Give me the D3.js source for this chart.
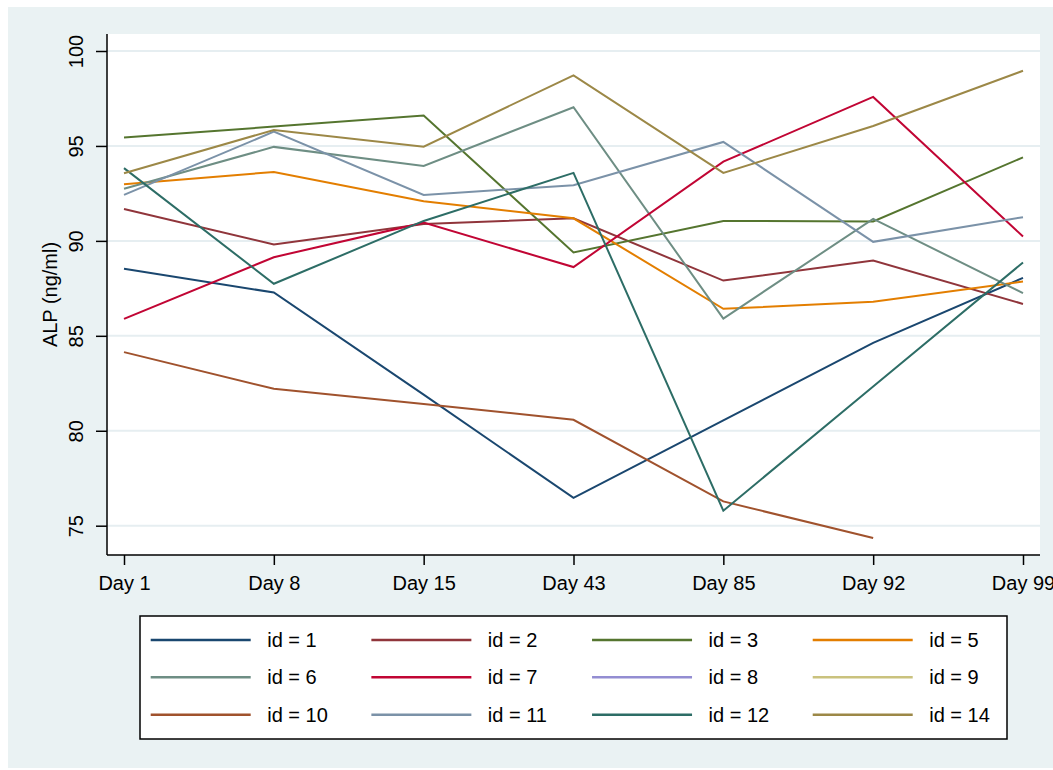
<!DOCTYPE html>
<html>
<head>
<meta charset="utf-8">
<script src="https://cdn.jsdelivr.net/npm/d3@7"></script>
<style>
  html, body { margin: 0; padding: 0; background: #ffffff; }
  svg { display: block; font-family: "Liberation Sans", Arial, Helvetica, sans-serif; }
</style>
</head>
<body>
<svg id="chart" width="1053" height="770"></svg>
<script>
// ---- data ----
const days = ["Day 1", "Day 8", "Day 15", "Day 43", "Day 85", "Day 92", "Day 99"];
const yTicks = [75, 80, 85, 90, 95, 100];
const yTitle = "ALP (ng/ml)";
const seriesLabels = ["id = 1", "id = 2", "id = 3", "id = 5", "id = 6", "id = 7", "id = 8", "id = 9", "id = 10", "id = 11", "id = 12", "id = 14"];
const id1  = [88.53, 87.28, 81.9, 76.47, 80.55, 84.63, 88.05];
const id2  = [91.68, 89.81, 90.89, 91.19, 87.91, 88.96, 86.68];
const id3  = [95.44, 96.02, 96.6, 89.39, 91.05, 91.02, 94.4];
const id5  = [92.98, 93.63, 92.09, 91.19, 86.42, 86.8, 87.86];
const id6  = [92.75, 94.95, 93.95, 97.04, 85.91, 91.16, 87.25];
const id7  = [85.89, 89.14, 90.96, 88.62, 94.17, 97.58, 90.23];
const id8  = [null, null, null, null, null, null, null];
const id9  = [null, null, null, null, null, null, null];
const id10 = [84.14, 82.21, 81.41, 80.58, 76.28, 74.35, null];
const id11 = [92.42, 95.75, 92.42, 92.93, 95.21, 89.95, 91.25];
const id12 = [93.83, 87.74, 91.05, 93.58, 75.79, 82.33, 88.86];
const id14 = [93.56, 95.84, 94.96, 98.72, 93.58, 96.05, 98.96];
const seriesValues = [id1, id2, id3, id5, id6, id7, id8, id9, id10, id11, id12, id14];
const colors = ["#1a476f", "#90353b", "#55752f", "#e37e00", "#6e8e84", "#c10534", "#938dd2", "#cac27e", "#a0522d", "#7b92a8", "#2d6d66", "#9c8847"];

// ---- layout ----
const svg = d3.select("#chart");
const plot = { left: 107, right: 1040, top: 34, bottom: 555 };

svg.append("rect").attr("x", 8).attr("y", 7).attr("width", 1045).attr("height", 761).attr("fill", "#eaf2f3");
svg.append("rect").attr("x", plot.left).attr("y", plot.top)
  .attr("width", plot.right - plot.left).attr("height", plot.bottom - plot.top).attr("fill", "#ffffff");

const x = d3.scalePoint().domain(days).range([124, 1023]);
const y = d3.scaleLinear().domain([75, 100]).range([525.7, 51]);

// gridlines
svg.append("g").selectAll("line").data(yTicks).join("line")
  .attr("x1", plot.left).attr("x2", plot.right)
  .attr("y1", d => y(d)).attr("y2", d => y(d))
  .attr("stroke", "#e6eef1").attr("stroke-width", 2);

// series lines
const lineGen = d3.line()
  .defined(d => d.v != null)
  .x(d => x(d.day)).y(d => y(d.v));

seriesValues.forEach((vals, i) => {
  const pts = days.map((day, j) => ({ day, v: vals[j] })).filter(d => d.v != null);
  if (pts.length < 2) return;
  svg.append("path").datum(pts)
    .attr("d", lineGen)
    .attr("fill", "none")
    .attr("stroke", colors[i])
    .attr("stroke-width", 2)
    .attr("stroke-linejoin", "miter");
});

// y axis
const yAxis = svg.append("g").attr("transform", `translate(${plot.left},0)`)
  .call(d3.axisLeft(y).tickValues(yTicks).tickSize(11).tickPadding(6).tickFormat(d3.format("d")));
yAxis.select(".domain").remove();
yAxis.selectAll(".tick line").attr("stroke", "#000").attr("stroke-width", 1.5);
yAxis.selectAll(".tick text")
  .attr("x", null).attr("dy", null)
  .attr("transform", "translate(-24,0) rotate(-90)")
  .attr("text-anchor", "middle")
  .attr("font-size", 20).attr("fill", "#000")
  .attr("font-family", "'Liberation Sans', Arial, sans-serif");
svg.append("line").attr("x1", plot.left).attr("x2", plot.left)
  .attr("y1", plot.top).attr("y2", plot.bottom).attr("stroke", "#000").attr("stroke-width", 1.5);

// x axis
const xAxis = svg.append("g").attr("transform", `translate(0,${plot.bottom})`)
  .call(d3.axisBottom(x).tickSize(10).tickPadding(11));
xAxis.select(".domain").remove();
xAxis.selectAll(".tick line").attr("stroke", "#000").attr("stroke-width", 1.5);
xAxis.selectAll(".tick text")
  .attr("font-size", 20).attr("fill", "#000")
  .attr("font-family", "'Liberation Sans', Arial, sans-serif");
svg.append("line").attr("x1", plot.left).attr("x2", plot.right)
  .attr("y1", plot.bottom).attr("y2", plot.bottom).attr("stroke", "#000").attr("stroke-width", 1.5);

// y title
svg.append("text")
  .attr("transform", `translate(57,${(plot.top + plot.bottom) / 2}) rotate(-90)`)
  .attr("text-anchor", "middle")
  .attr("font-size", 20).attr("fill", "#000")
  .text(yTitle);

// legend
const leg = { x: 140, y: 616, w: 867, h: 123 };
svg.append("rect").attr("x", leg.x).attr("y", leg.y).attr("width", leg.w).attr("height", leg.h)
  .attr("fill", "#ffffff").attr("stroke", "#000").attr("stroke-width", 1.5);
const colStep = 220.67, rowYs = [640, 677.3, 714.7];
const legItems = svg.append("g").selectAll("g").data(seriesLabels).join("g")
  .attr("transform", (d, i) => `translate(${150.7 + (i % 4) * colStep},${rowYs[Math.floor(i / 4)]})`);
legItems.append("line").attr("x1", 0).attr("x2", 100).attr("y1", 0).attr("y2", 0)
  .attr("stroke", (d, i) => colors[i]).attr("stroke-width", 2.5);
legItems.append("text").attr("x", 116.5).attr("y", 0).attr("dy", "0.35em")
  .attr("font-size", 20).attr("fill", "#000").text(d => d);
</script>
</body>
</html>
